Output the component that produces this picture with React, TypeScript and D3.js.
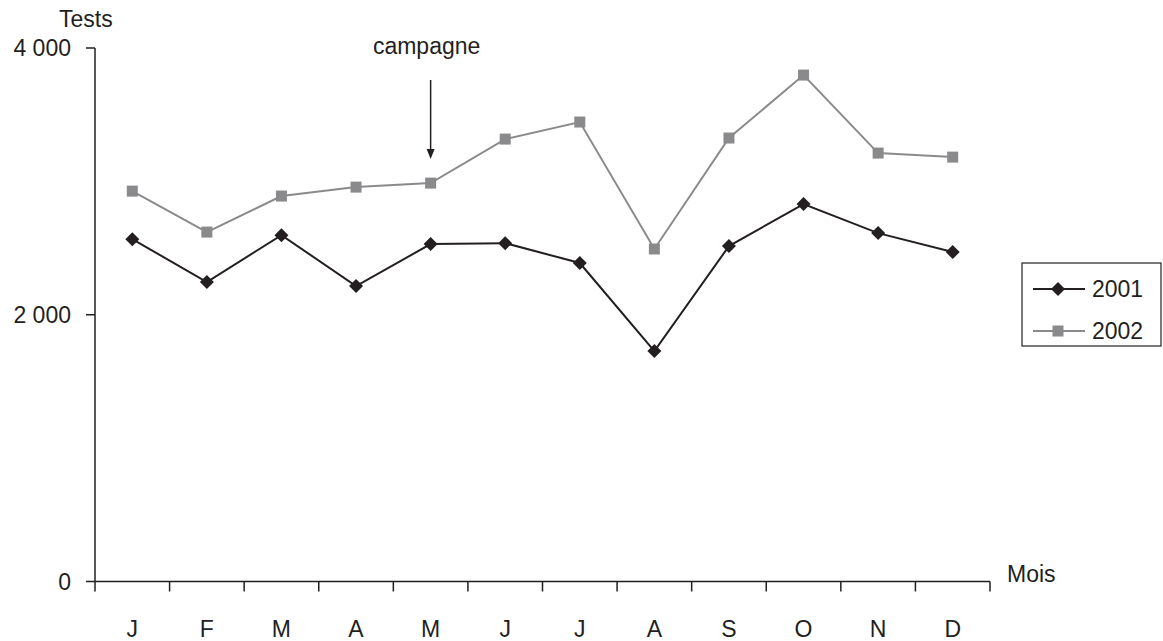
import React from "react";
import * as d3 from "d3";

const months = ["J", "F", "M", "A", "M", "J", "J", "A", "S", "O", "N", "D"];
const series2001 = [2567, 2245, 2597, 2215, 2530, 2537, 2388, 1728, 2515, 2830, 2612, 2470];
const series2002 = [2927, 2620, 2890, 2957, 2987, 3317, 3445, 2493, 3325, 3797, 3212, 3182];
const yTicks = [0, 2000, 4000];
const yTickLabels = ["0", "2 000", "4 000"];
const seriesNames = ["2001", "2002"];

const W = 1163;
const H = 641;
const FONT = "'Liberation Sans', Arial, Helvetica, sans-serif";
const FS = 23;
const C2001 = "#231f20";
const C2002 = "#8a8a8c";

export default function App() {
  const idx = months.map((_, i) => i);
  const x = d3.scaleBand<number>().domain(idx).range([95, 990]).padding(0);
  const y = d3.scaleLinear().domain([0, 4000]).range([581.5, 48]);
  const cx = (i: number) => (x(i) as number) + x.bandwidth() / 2;

  const line = d3
    .line<number>()
    .x((_, i) => cx(i))
    .y((d) => y(d));

  const diamond = (px: number, py: number, r: number, key?: any) => (
    <path
      key={key}
      d={`M${px},${py - r}L${px + r},${py}L${px},${py + r}L${px - r},${py}Z`}
      fill={C2001}
    />
  );
  const square = (px: number, py: number, s: number, key?: any) => (
    <rect key={key} x={px - s / 2} y={py - s / 2} width={s} height={s} fill={C2002} />
  );

  const tickPositions = d3.range(0, months.length + 1).map((i) =>
    i < months.length ? (x(i) as number) : 990
  );

  const arrowX = cx(4);

  return (
    <svg
      width={W}
      height={H}
      style={{ position: "absolute", left: 0, top: 0, background: "#fff" }}
      fontFamily={FONT}
    >
      <rect x={0} y={0} width={W} height={H} fill="#fff" />
      {/* Axes */}
      <line x1={95} x2={95} y1={y(4000)} y2={y(0)} stroke="#231f20" strokeWidth={1.5} />
      <line x1={95} x2={990} y1={y(0)} y2={y(0)} stroke="#231f20" strokeWidth={1.5} />
      {yTicks.map((t, i) => (
        <g key={"yt" + i}>
          <line x1={86} x2={95} y1={y(t)} y2={y(t)} stroke="#231f20" strokeWidth={1.5} />
          <text x={71} y={y(t)} dy="0.36em" textAnchor="end" fontSize={FS} fill="#231f20">
            {yTickLabels[i]}
          </text>
        </g>
      ))}
      {tickPositions.map((p, i) => (
        <line key={"xt" + i} x1={p} x2={p} y1={y(0)} y2={y(0) + 10} stroke="#231f20" strokeWidth={1.5} />
      ))}
      {months.map((m, i) => (
        <text key={"m" + i} x={cx(i)} y={637} textAnchor="middle" fontSize={FS} fill="#231f20">
          {m}
        </text>
      ))}
      <text x={59} y={27} fontSize={FS} fill="#231f20">Tests</text>
      <text x={1007} y={582} fontSize={FS} fill="#231f20">Mois</text>

      {/* Annotation */}
      <text x={arrowX - 4} y={54} textAnchor="middle" fontSize={FS} fill="#231f20">campagne</text>
      <line x1={arrowX} x2={arrowX} y1={80} y2={152} stroke="#231f20" strokeWidth={1.5} />
      <path d={`M${arrowX - 4},${149}L${arrowX + 4},${149}L${arrowX},${159}Z`} fill="#231f20" />

      {/* Series */}
      <path d={line(series2002) || ""} fill="none" stroke={C2002} strokeWidth={2} />
      {series2002.map((v, i) => square(cx(i), y(v), 11, "s" + i))}
      <path d={line(series2001) || ""} fill="none" stroke={C2001} strokeWidth={2} />
      {series2001.map((v, i) => diamond(cx(i), y(v), 7, "d" + i))}

      {/* Legend */}
      <rect x={1022} y={263} width={139} height={83} fill="#fff" stroke="#231f20" strokeWidth={1.2} />
      <line x1={1033} x2={1085} y1={289} y2={289} stroke={C2001} strokeWidth={2} />
      {diamond(1058, 289, 7)}
      <text x={1092} y={289} dy="0.36em" fontSize={FS} fill="#231f20">{seriesNames[0]}</text>
      <line x1={1033} x2={1085} y1={331} y2={331} stroke={C2002} strokeWidth={2} />
      {square(1058, 331, 11)}
      <text x={1092} y={331} dy="0.36em" fontSize={FS} fill="#231f20">{seriesNames[1]}</text>
    </svg>
  );
}
